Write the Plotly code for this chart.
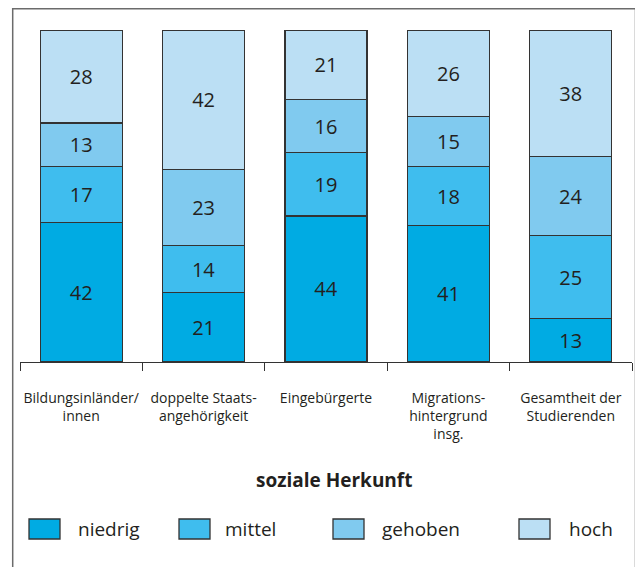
import plotly.graph_objects as go

# -----------------------------------------
#              データ
# -----------------------------------------
categories = [
    "Bildungsinländer/<br>innen",
    "doppelte Staats-<br>angehörigkeit",
    "Eingebürgerte",
    "Migrations-<br>hintergrund<br>insg.",
    "Gesamtheit der<br>Studierenden",
]
series_names = ["niedrig", "mittel", "gehoben", "hoch"]
niedrig = [42, 21, 44, 41, 13]
mittel = [17, 14, 19, 18, 25]
gehoben = [13, 23, 16, 15, 24]
hoch = [28, 42, 21, 26, 38]
legend_title = "soziale Herkunft"

COLORS = ["#00abe3", "#3fbdee", "#80caef", "#bbdff4"]
TEXT_COLOR = "#231f20"
LINE_COLOR = "#333333"
FONT = "Open Sans"

# -----------------------------------------
#              レイアウト寸法
# -----------------------------------------
# ページ側の余白 (8px) を差し引く
OFF = 8
W, H = 643 - OFF, 567 - OFF
PLOT_L, PLOT_R, PLOT_T, PLOT_B = 20, 632, 30, 362
M_L, M_R = PLOT_L - OFF, W - (PLOT_R - OFF)
M_T, M_B = PLOT_T - OFF, H - (PLOT_B - OFF)
PW = PLOT_R - PLOT_L
PH = PLOT_B - PLOT_T


def px_x(px):
    return (px - PLOT_L) / PW


def px_y(py):
    return (PLOT_B - py) / PH


fig = go.Figure()

for name, vals, color in zip(series_names, [niedrig, mittel, gehoben, hoch], COLORS):
    fig.add_bar(
        x=categories,
        y=vals,
        name=name,
        marker=dict(color=color, line=dict(color=LINE_COLOR, width=1.2)),
        text=[str(v) for v in vals],
        textposition="inside",
        insidetextanchor="middle",
        textangle=0,
        constraintext="none",
        textfont=dict(family=FONT, size=20, color=TEXT_COLOR),
        showlegend=False,
    )

# 外枠
shapes = [
    dict(
        type="rect", xref="paper", yref="paper",
        x0=px_x(12.7), x1=px_x(635.5), y0=px_y(8.8), y1=px_y(620),
        line=dict(color="#6b6b6b", width=1.5), fillcolor="rgba(0,0,0,0)",
        layer="below",
    )
]
annotations = [
    dict(
        text="<b>" + legend_title + "</b>", xref="paper", yref="paper",
        x=px_x(334), y=px_y(480), showarrow=False,
        font=dict(family=FONT, size=19, color=TEXT_COLOR),
        xanchor="center", yanchor="middle",
    )
]

# 凡例（手動）
box_x = [29, 179, 333, 519]
text_x = [76, 223, 380, 567]
for name, color, bx, tx in zip(series_names, COLORS, box_x, text_x):
    shapes.append(dict(
        type="rect", xref="paper", yref="paper",
        x0=px_x(bx), x1=px_x(bx + 31), y0=px_y(539), y1=px_y(519),
        line=dict(color=LINE_COLOR, width=1.3), fillcolor=color,
    ))
    annotations.append(dict(
        text=name, xref="paper", yref="paper",
        x=px_x(tx), y=px_y(529), showarrow=False,
        xanchor="left", yanchor="middle",
        font=dict(family=FONT, size=19, color=TEXT_COLOR),
    ))

fig.update_layout(
    barmode="stack",
    bargap=0.33,
    width=W,
    height=H,
    margin=dict(l=M_L, r=M_R, t=M_T, b=M_B),
    paper_bgcolor="white",
    plot_bgcolor="white",
    font=dict(family=FONT, size=14, color=TEXT_COLOR),
    xaxis=dict(
        showline=True,
        linecolor=LINE_COLOR,
        linewidth=1.3,
        ticks="outside",
        tickson="boundaries",
        ticklen=8,
        tickcolor=LINE_COLOR,
        tickwidth=1.3,
        tickangle=0,
        automargin=False,
        tickfont=dict(family=FONT, size=14, color=TEXT_COLOR),
        ticklabelstandoff=23,
        showgrid=False,
    ),
    yaxis=dict(
        range=[0, 100],
        visible=False,
        showgrid=False,
        zeroline=False,
        automargin=False,
    ),
    shapes=shapes,
    annotations=annotations,
)

fig.write_html("out.html")
